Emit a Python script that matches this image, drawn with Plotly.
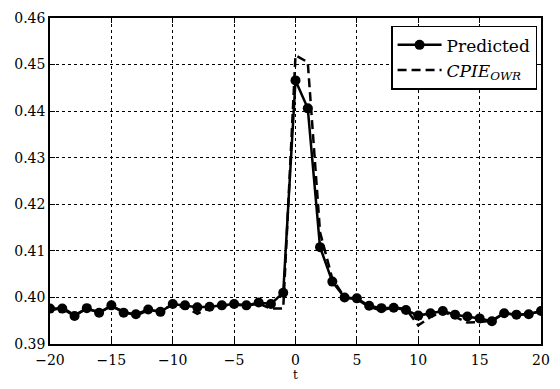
import plotly.graph_objects as go

t = list(range(-20, 21))
predicted = [0.3976, 0.3976, 0.3960, 0.3977, 0.3967, 0.3983, 0.3967, 0.3964, 0.3974, 0.3969,
             0.3986, 0.3983, 0.3979, 0.3980, 0.3983, 0.3986, 0.3983, 0.3989, 0.3986, 0.4010,
             0.4466, 0.4406, 0.4108, 0.4034, 0.4000, 0.3998, 0.3982, 0.3977, 0.3978, 0.3973,
             0.3961, 0.3966, 0.3971, 0.3963, 0.3959, 0.3955, 0.3949, 0.3966, 0.3963, 0.3964, 0.3971]
cpie = [0.3972, 0.3978, 0.3962, 0.3976, 0.3968, 0.3981, 0.3970, 0.3961, 0.3972, 0.3971,
        0.3984, 0.3979, 0.3965, 0.3978, 0.3982, 0.3985, 0.3982, 0.3987, 0.3976, 0.3976,
        0.4520, 0.4505, 0.4140, 0.4040, 0.4000, 0.3996, 0.3980, 0.3972, 0.3979, 0.3975,
        0.3940, 0.3958, 0.3970, 0.3958, 0.3946, 0.3947, 0.3950, 0.3967, 0.3962, 0.3965, 0.3970]

x_ticks = [-20, -15, -10, -5, 0, 5, 10, 15, 20]
x_labels = ["\u221220", "\u221215", "\u221210", "\u22125", "0", "5", "10", "15", "20"]
y_ticks = [0.39, 0.40, 0.41, 0.42, 0.43, 0.44, 0.45, 0.46]
y_labels = ["0.39", "0.40", "0.41", "0.42", "0.43", "0.44", "0.45", "0.46"]

fig = go.Figure()
fig.add_trace(go.Scatter(x=t, y=cpie, mode="lines", name="<i>CPIE</i><sub><i>OWR</i></sub>",
                         line=dict(color="black", width=2.5, dash="9px,5px")))
fig.add_trace(go.Scatter(x=t, y=predicted, mode="lines+markers", name="Predicted",
                         line=dict(color="black", width=2.5),
                         marker=dict(color="black", size=10)))

axis_common = dict(showline=True, linecolor="black", linewidth=1.5, mirror="ticks",
                   ticks="inside", ticklen=5, tickcolor="black", tickwidth=1,
                   showgrid=True, gridcolor="black", griddash="dot", gridwidth=1,
                   zeroline=False, tickfont=dict(family="DejaVu Serif", size=14, color="black"))

fig.update_layout(
    width=560, height=389,
    margin=dict(l=50, r=10, t=18, b=37),
    paper_bgcolor="white", plot_bgcolor="white",
    font=dict(family="DejaVu Serif", size=14, color="black"),
    xaxis=dict(range=[-20, 20], tickvals=x_ticks, ticktext=x_labels, ticklabelstandoff=2,
               title=dict(text="t", font=dict(size=12), standoff=3), **axis_common),
    yaxis=dict(range=[0.39, 0.46], tickvals=y_ticks, ticktext=y_labels, **axis_common),
    legend=dict(x=0.992, y=0.976, xanchor="right", yanchor="top", traceorder="reversed",
                bordercolor="black", borderwidth=1.5, bgcolor="white", itemwidth=44,
                tracegroupgap=0,
                font=dict(family="DejaVu Serif", size=17)),
    showlegend=True,
)

fig.write_html("out.html")
